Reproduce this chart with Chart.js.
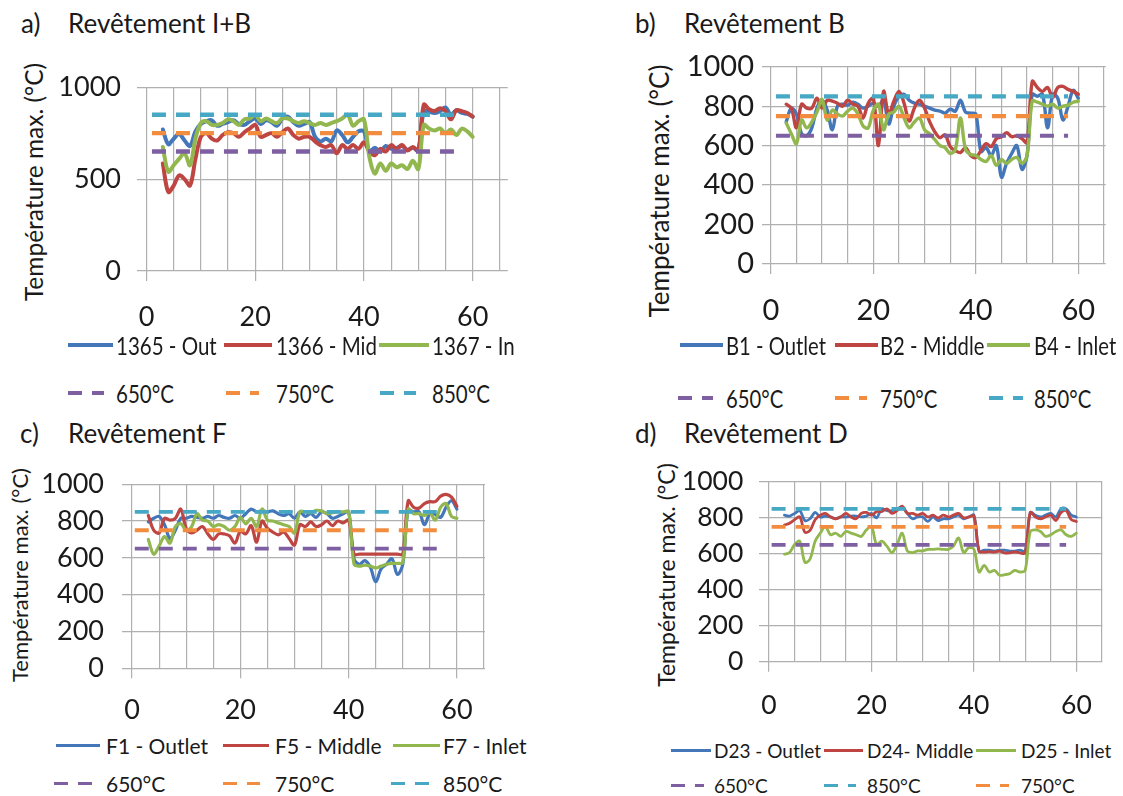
<!DOCTYPE html>
<html><head><meta charset="utf-8">
<script src="https://cdn.jsdelivr.net/npm/chart.js@4.4.1/dist/chart.umd.min.js"></script>
<style>
html,body{margin:0;padding:0;background:#fff;}
#root{position:relative;width:1123px;height:796px;overflow:hidden;background:#fff;font-family:Lato,'Open Sans',sans-serif;color:#1a1a1a;}
.txt{position:absolute;white-space:nowrap;line-height:1;transform-origin:left center;}
.vtxt{position:absolute;white-space:nowrap;line-height:1;transform:translate(-50%,-50%) rotate(-90deg);}
.sw{position:absolute;}
canvas{position:absolute;display:block;}
</style></head><body><div id="root"></div>
<script>
// ---------- data ----------
const minutes = [3,4,5,6,7,8,9,10,11,12,13,14,15,16,17,18,19,20,21,22,23,24,25,26,27,28,29,30,31,32,33,34,35,36,37,38,39,40,41,42,43,44,45,46,47,48,49,50,51,52,53,54,55,56,57,58,59,60];
const xLabelValues = [0, 20, 40, 60];
const xGridValues = [0, 5, 10, 15, 20, 25, 30, 35, 40, 45, 50, 55, 60, 65];
const yTicksA = [0, 500, 1000];
const yTicksBCD = [0, 200, 400, 600, 800, 1000];
const thresholdValues = [650, 750, 850];
const thresholdLabels = ['650°C', '750°C', '850°C'];
const yAxisTitle = 'Température max. (°C)';

const panelLetters = ['a)', 'b)', 'c)', 'd)'];
const panelTitles = ['Revêtement I+B', 'Revêtement B', 'Revêtement F', 'Revêtement D'];

// a) Revêtement I+B
const seriesLabelsA = ['1365 - Out', '1366 - Mid', '1367 - In'];
const outA = [770,690,720,745,710,680,760,800,815,820,790,800,810,820,800,795,815,830,800,820,810,790,830,840,810,790,800,810,730,705,720,705,765,740,700,730,760,760,650,670,650,680,665,670,680,660,670,655,870,865,860,870,890,850,875,860,855,840];
const midA = [585,430,465,520,500,465,610,730,750,720,710,740,755,750,730,755,775,795,730,740,750,730,755,775,740,720,730,730,705,685,675,685,640,685,665,685,665,700,650,630,665,650,685,665,685,655,675,655,905,880,870,885,870,825,875,870,860,840];
const inA  = [675,540,575,610,640,575,720,805,815,795,795,805,825,815,795,825,830,850,815,830,815,805,830,830,815,805,815,805,795,805,795,805,815,830,850,790,815,825,620,530,585,545,585,565,575,555,600,555,795,775,765,775,750,770,740,775,760,730];
const thresholdSpanA = [1, 58];

// b) Revêtement B
const seriesLabelsB = ['B1 - Outlet', 'B2 - Middle', 'B4 - Inlet'];
const outB = [720,790,760,660,650,690,790,830,780,680,800,810,805,820,810,790,800,815,800,830,710,800,850,860,830,815,810,800,790,780,775,765,785,775,830,770,765,760,570,590,550,600,440,510,560,600,480,550,860,850,860,690,860,840,730,800,880,840];
const midB = [810,790,690,810,790,790,840,790,830,825,815,800,830,810,800,740,815,840,600,875,760,825,875,815,725,790,830,790,720,670,640,655,595,575,565,590,550,540,575,610,595,635,645,665,645,650,635,615,925,895,875,895,845,895,900,885,875,860];
const inB  = [715,660,610,730,690,720,770,835,730,780,760,750,775,790,760,700,690,780,810,680,760,770,800,740,690,720,740,680,660,630,600,590,560,580,740,580,555,550,530,520,550,500,530,510,530,540,510,550,825,820,810,800,810,790,800,805,820,825];
const thresholdSpanB = [1, 58];

// c) Revêtement F
const seriesLabelsC = ['F1 - Outlet', 'F5 - Middle', 'F7 - Inlet'];
const outC = [795,815,825,780,705,750,815,815,825,820,815,825,815,830,820,815,830,815,840,865,850,855,850,855,840,830,840,815,850,825,840,820,850,840,815,825,840,850,595,565,585,550,470,540,565,595,510,565,860,850,850,780,840,835,820,875,910,865];
const midC = [830,750,735,815,805,815,865,760,735,750,770,730,700,730,730,720,680,745,730,775,685,800,760,740,725,740,705,670,780,770,795,770,780,800,775,800,790,805,620,620,620,620,620,620,620,620,620,620,910,875,870,895,905,905,935,945,930,880];
const inC  = [700,620,665,715,680,770,785,750,770,840,805,800,770,780,770,750,770,820,785,815,770,865,805,800,790,780,770,735,850,850,845,858,855,840,845,850,850,850,565,555,560,555,545,555,565,570,570,575,865,840,840,830,845,805,875,895,825,815];
const thresholdSpanC = [0.5, 58];

// d) Revêtement D
const seriesLabelsD = ['D23 - Outlet', 'D24- Middle', 'D25 - Inlet'];
const outD = [815,810,825,840,785,795,830,805,810,805,795,805,805,810,810,805,810,825,800,850,840,840,850,860,825,795,805,805,780,805,785,795,795,805,815,795,805,815,615,620,620,615,620,620,615,615,620,615,830,815,805,815,825,805,850,850,815,805];
const midD = [760,770,790,805,720,730,790,815,825,805,795,805,825,805,795,825,830,815,835,835,850,825,840,865,825,825,815,825,805,815,800,815,805,815,825,800,805,810,615,610,612,610,615,605,605,610,605,605,830,805,795,805,815,785,830,840,790,780];
const inD  = [598,607,652,670,553,571,670,715,751,706,715,697,724,715,706,697,733,751,652,670,643,607,652,715,616,607,616,616,625,625,628,625,625,643,688,607,634,625,499,535,499,508,481,484,490,508,499,508,724,733,724,697,706,724,733,706,697,715];
const thresholdSpanD = [0.5, 58];

// ---------- styles / layout ----------
const FONT = "Lato, 'Open Sans', sans-serif";
const TEXT = '#1a1a1a';
const GRID = '#b0b0b0';
const SERIES_COLORS = ['#4377B9', '#BE4541', '#91B74E'];
const THRESH_COLORS = ['#7E60A2', '#F28D3F', '#46A8C4'];
const DASH = [14, 10];

const PANELS = [
  { letterX:21, titleX:68, titleY:23, titleSize:26,
    canvas:{left:0, top:55, width:520, height:280}, padTop:32, padRight:6, yAxisWidth:137, xAxisHeight:64,
    xMin:-1.75, xMax:66.45, yTicks:yTicksA, tickSize:27, xTickPad:20, yTickPad:16,
    yTitle:{x:34, y:182, size:24.5},
    lineWidth:4, dashWidth:4.4, series:[outA, midA, inA], labels:seriesLabelsA, span:thresholdSpanA,
    legend:{ size:25, scale:0.82, thick:4, rows:[345,393], order:[[0,1,2],[3,4,5]], textX:[116,276,432],
             sw:[[[68,45],[224,48],[379,50]], [[68,36],[226,33],[380,36]]] } },
  { letterX:635, titleX:684, titleY:23, titleSize:26,
    canvas:{left:620, top:35, width:503, height:290}, padTop:31.7, padRight:10, yAxisWidth:142, xAxisHeight:61,
    xMin:-1.72, xMax:65.35, yTicks:yTicksBCD, tickSize:29, xTickPad:19, yTickPad:8,
    yTitle:{x:659, y:191, size:26},
    lineWidth:3.4, dashWidth:4.2, series:[outB, midB, inB], labels:seriesLabelsB, span:thresholdSpanB,
    legend:{ size:25, scale:0.81, thick:4, rows:[345,398], order:[[0,1,2],[3,4,5]], textX:[726,880,1034],
             sw:[[[680,43],[835,43],[987,43]], [[678,35],[835,32],[989,34]]] } },
  { letterX:20, titleX:68, titleY:433, titleSize:26,
    canvas:{left:0, top:450, width:500, height:278}, padTop:28.3, padRight:7, yAxisWidth:122, xAxisHeight:59.7,
    xMin:-1.86, xMax:65.19, yTicks:yTicksBCD, tickSize:27, xTickPad:16, yTickPad:18,
    yTitle:{x:20, y:575, size:22},
    lineWidth:3.2, dashWidth:3.8, series:[outC, midC, inC], labels:seriesLabelsC, span:thresholdSpanC,
    legend:{ size:21, scale:1, thick:3, rows:[745,783], order:[[0,1,2],[3,4,5]], textX:[106,275,443],
             sw:[[[56,44],[223,46],[393,47]], [[54,38],[223,37],[391,38]]] } },
  { letterX:635, titleX:684, titleY:433, titleSize:26,
    canvas:{left:620, top:450, width:500, height:275}, padTop:26.7, padRight:10, yAxisWidth:139.3, xAxisHeight:63.3,
    xMin:-1.9, xMax:65.05, yTicks:yTicksBCD, tickSize:26.5, xTickPad:18, yTickPad:16,
    yTitle:{x:666, y:575, size:23},
    lineWidth:2.8, dashWidth:3.8, series:[outD, midD, inD], labels:seriesLabelsD, span:thresholdSpanD,
    legend:{ size:19, scale:1, thick:3, rows:[750,785], order:[[0,1,2],[3,5,4]], textX:[714,867,1021],
             sw:[[[671,40],[824,39],[976,40]], [[671,33],[824,32],[976,33]]] } }
];

const root = document.getElementById('root');

function addText(str, x, y, size, scaleX) {
  const el = document.createElement('div');
  el.className = 'txt';
  el.textContent = str;
  el.style.left = x + 'px';
  el.style.top = y + 'px';
  el.style.fontSize = size + 'px';
  el.style.transform = 'translateY(-50%) scaleX(' + (scaleX || 1) + ')';
  root.appendChild(el);
  return el;
}

function addVText(str, x, y, size) {
  const el = document.createElement('div');
  el.className = 'vtxt';
  el.textContent = str;
  el.style.left = x + 'px';
  el.style.top = y + 'px';
  el.style.fontSize = size + 'px';
  root.appendChild(el);
}

function buildDatasets(p) {
  const ds = [];
  p.series.forEach((vals, i) => {
    ds.push({
      label: p.labels[i],
      data: minutes.map((m, k) => ({x: m, y: vals[k]})),
      borderColor: SERIES_COLORS[i], backgroundColor: SERIES_COLORS[i],
      borderWidth: p.lineWidth, tension: 0.35, pointRadius: 0,
      borderJoinStyle: 'round', borderCapStyle: 'round', fill: false,
      order: 6 - i
    });
  });
  thresholdValues.forEach((v, i) => {
    ds.push({
      label: thresholdLabels[i],
      data: p.span.map(x => ({x: x, y: v})),
      borderColor: THRESH_COLORS[i], backgroundColor: THRESH_COLORS[i],
      borderWidth: p.dashWidth, borderDash: DASH, pointRadius: 0, tension: 0, fill: false,
      order: 3 - i
    });
  });
  return ds;
}

function buildLegend(chart, p) {
  const L = p.legend;
  L.order.forEach((row, r) => {
    row.forEach((dsIndex, c) => {
      const ds = chart.data.datasets[dsIndex];
      const [sx, sw] = L.sw[r][c];
      const el = document.createElement('div');
      el.className = 'sw';
      el.style.left = sx + 'px';
      el.style.top = (L.rows[r] - L.thick / 2) + 'px';
      el.style.width = sw + 'px';
      el.style.height = L.thick + 'px';
      if (ds.borderDash && ds.borderDash.length) {
        const [d, g] = ds.borderDash;
        el.style.background = `repeating-linear-gradient(to right, ${ds.borderColor} 0 ${d}px, transparent ${d}px ${d + g}px)`;
      } else {
        el.style.background = ds.borderColor;
      }
      root.appendChild(el);
      addText(ds.label, L.textX[c], L.rows[r], L.size, L.scale);
    });
  });
}

PANELS.forEach((p, idx) => {
  addText(panelLetters[idx], p.letterX, p.titleY, p.titleSize, 1);
  addText(panelTitles[idx], p.titleX, p.titleY, p.titleSize, 1);
  addVText(yAxisTitle, p.yTitle.x, p.yTitle.y, p.yTitle.size);

  const cv = document.createElement('canvas');
  cv.width = p.canvas.width; cv.height = p.canvas.height;
  cv.style.left = p.canvas.left + 'px'; cv.style.top = p.canvas.top + 'px';
  cv.style.width = p.canvas.width + 'px'; cv.style.height = p.canvas.height + 'px';
  root.appendChild(cv);

  const chart = new Chart(cv, {
    type: 'line',
    data: { datasets: buildDatasets(p) },
    options: {
      responsive: false, animation: false, devicePixelRatio: 1,
      layout: { padding: { top: p.padTop, right: p.padRight, left: 0, bottom: 0 } },
      plugins: { legend: { display: false }, tooltip: { enabled: false } },
      scales: {
        x: {
          type: 'linear', min: p.xMin, max: p.xMax,
          afterBuildTicks: s => { s.ticks = xGridValues.filter(v => v <= p.xMax).map(v => ({value: v})); },
          afterFit: s => { s.height = p.xAxisHeight; },
          grid: { color: GRID, lineWidth: 1.2, tickLength: 10,
                  tickColor: c => (c.tick && xLabelValues.includes(c.tick.value)) ? GRID : 'rgba(0,0,0,0)' },
          border: { display: false },
          ticks: { autoSkip: false, maxRotation: 0, padding: p.xTickPad, color: TEXT,
                   font: { family: FONT, size: p.tickSize },
                   callback: v => xLabelValues.includes(v) ? String(v) : '' }
        },
        y: {
          min: 0, max: 1000,
          afterBuildTicks: s => { s.ticks = p.yTicks.map(v => ({value: v})); },
          afterFit: s => { s.width = p.yAxisWidth; },
          grid: { color: GRID, lineWidth: 1.2, drawTicks: false },
          border: { display: false },
          ticks: { padding: p.yTickPad, color: TEXT, font: { family: FONT, size: p.tickSize },
                   callback: v => String(v) }
        }
      }
    }
  });
  buildLegend(chart, p);
});
</script></body></html>
